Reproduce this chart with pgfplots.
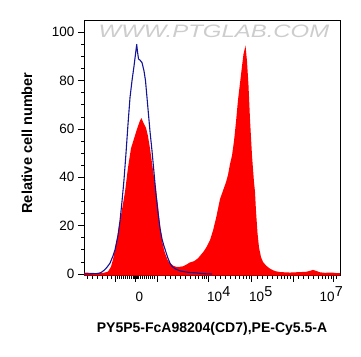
\documentclass[border=0pt]{standalone}
\usepackage{pgfplots}
\pgfplotsset{compat=1.18}
\usepackage{fontspec}
\setmainfont{Liberation Sans}
\definecolor{ctrlblue}{RGB}{20,20,150}
\definecolor{wm}{RGB}{205,205,205}
\pgfplotstableread{
x y
84 -0.7
84 0.6
95 0.4
104 0.5
108 1
111 3
113 6
115 10
118 17
120 22
123 29
125 34
128 44
131 52
134 56
137 60
140 63.5
141.5 64.5
143 63
146 60.5
148 57
150 52
152 46
154 40
156 35
158 28
160 20
162 14
164 10
166 7.5
168 5.5
170 4.5
173 3.5
176 3
180 3
183 3.2
186 3.8
190 4.8
194 5.3
198 6.5
201 8
204 9.5
207 11.5
210 14
213 18
216 23
218 27
220 31
223 34.5
226 38
228 41
230 45.5
232 49
234 55
236 63
238 72
240 79
242 86
243.5 91
245.5 94.5
247 88
248.5 78
250 64
252 49
254 38
255 34
256 26
257.5 17
259 11
261 7
263 5
266 3.5
270 2.2
275 1.2
280 0.8
290 0.6
300 0.8
306 0.9
310 1.3
313 1.7
316 1.3
320 0.7
325 0.5
332 0.6
336 0.4
340 0.4
340 -0.7
}\sample
\pgfplotstableread{
x y
84 0
98 0.2
101 0.6
104 1.5
107 2.8
110 4.5
113 7.5
115 10
118 16
120 22
122 30
124 39
126 50
128 62
130 73
132 80
134 86
135.5 91
136.7 95
137.5 92
138.5 89
140 88.5
142 87.5
144 84
145.5 80
147 73
148.5 66
150 59
152 51
154 42
156 33
158 25.5
160 19
162 14.5
164 11.5
166 9
168 6.5
170 4.5
172 3.2
175 2.2
180 1.3
185 0.9
190 0.6
195 0.5
200 0.3
205 0.1
212 0
}\control
\begin{document}
\begin{tikzpicture}
\useasboundingbox (0,0) rectangle (361pt,356pt);
\begin{axis}[
  at={(84pt,80.3pt)}, anchor=south west,
  scale only axis, width=256pt, height=255.2pt,
  xmin=84, xmax=340, ymin=-0.7, ymax=104.9,
  axis line style={line width=0.9pt},
  tick align=outside, tick pos=left,
  major tick length=6pt, minor tick length=3pt,
  every tick/.style={black, line width=0.8pt},
  ytick={0,20,40,60,80,100}, minor y tick num=3,
  xtick={115,135,157,208,251,293,333}, xticklabels={},
  minor xtick={87,92,97,102,107,111,117,119,121,123,125,127,129,131,133,134,136,137,138,140,142,144,146,148,150,152,154,165,170,175,180,185,190,195,198,202,204,206,215,220,225,230,235,239,243,246,249,257,262,267,272,277,281,284,287,290,298,303,308,313,318,322,325,328,331,336},
  extra x ticks={139.5,219,261,331.5},
  extra x tick labels={0,10\textsuperscript{\Large 4},10\textsuperscript{\Large 5},10\textsuperscript{\Large 7}},
  extra x tick style={major tick length=0pt, tick label style={anchor=base, yshift=-26pt}},
  /pgf/number format/assume math mode=true,
  tick label style={font=\fontsize{13.5}{13.5}\selectfont},
  clip=true,
]
\addplot[fill=red, draw=none] table {\sample} -- cycle;
\addplot[ctrlblue, line width=1.1pt, line join=round] table {\control};
\node[text=wm, font=\fontsize{18}{18}\selectfont\itshape] at (axis cs:214,100.6) {\scalebox{1.33}[1]{WWW.PTGLAB.COM}};
\end{axis}
\node[font=\fontsize{14}{14}\selectfont\bfseries] at (212pt,27pt) {PY5P5-FcA98204(CD7),PE-Cy5.5-A};
\node[font=\fontsize{14.5}{14.5}\selectfont\bfseries, rotate=90] at (27pt,213pt) {Relative cell number};
\end{tikzpicture}
\end{document}
